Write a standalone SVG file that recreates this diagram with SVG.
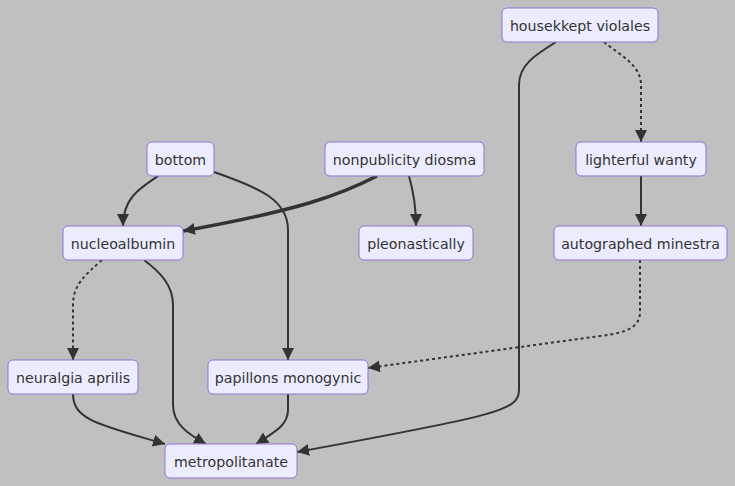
<svg xmlns="http://www.w3.org/2000/svg" width="735" height="486" viewBox="0 0 735 486">
<style>
.node rect{fill:#ECECFF;stroke:#9370DB;stroke-width:1}
.node text{font-family:"DejaVu Sans",Verdana,sans-serif;font-size:14.2px;fill:#333;text-anchor:middle;dominant-baseline:central}
.edge{fill:none;stroke:#333;stroke-width:2}
.dot{stroke-dasharray:3,3}
.thick{stroke-width:3.5}
</style>
<defs>
<marker id="arr" markerUnits="userSpaceOnUse" markerWidth="14" markerHeight="14" refX="12" refY="6" orient="auto">
<path d="M0,0 L12,6 L0,12 z" fill="#333"/>
</marker>
</defs>
<rect width="735" height="486" fill="#C0C0C0"/>
<g id="connectors">
<path class="edge" d="M556,42 C535,55 519,65 519,85 L519,390 C519,410 500,415 297,452" marker-end="url(#arr)"/>
<path class="edge dot" d="M604,42 C620,55 641,65 641,85 L641,142" marker-end="url(#arr)"/>
<path class="edge" d="M158,176 C140,188 123,198 123,226" marker-end="url(#arr)"/>
<path class="edge" d="M214,172 C260,188 288,200 288,230 L288,360" marker-end="url(#arr)"/>
<path class="edge thick" d="M377,176 C340,195 300,210 183,231" marker-end="url(#arr)"/>
<path class="edge" d="M409,176 C413,190 416,205 416,226" marker-end="url(#arr)"/>
<path class="edge" d="M641,176 L641,226" marker-end="url(#arr)"/>
<path class="edge dot" d="M102,260 C85,275 73,285 73,305 L73,360" marker-end="url(#arr)"/>
<path class="edge" d="M144,260 C160,272 173,285 173,305 L173,405 C173,425 190,435 206,444" marker-end="url(#arr)"/>
<path class="edge dot" d="M640,260 L640,312 C640,328 625,333 600,336 L368,368" marker-end="url(#arr)"/>
<path class="edge" d="M73,394 C73,420 100,425 165,444" marker-end="url(#arr)"/>
<path class="edge" d="M288,394 L288,410 C288,425 275,432 256,444" marker-end="url(#arr)"/>
</g>
<g id="housekkept" class="node"><rect x="502" y="8" width="156" height="34" rx="5"/><text x="580" y="25.5">housekkept violales</text></g>
<g id="bottom" class="node"><rect x="147" y="142" width="67" height="34" rx="5"/><text x="180.5" y="159.5">bottom</text></g>
<g id="nonpublicity" class="node"><rect x="325" y="142" width="159" height="34" rx="5"/><text x="404.5" y="159.5">nonpublicity diosma</text></g>
<g id="lighterful" class="node"><rect x="576" y="142" width="130" height="34" rx="5"/><text x="641" y="159.5">lighterful wanty</text></g>
<g id="nucleoalbumin" class="node"><rect x="63" y="226" width="120" height="34" rx="5"/><text x="123" y="243.5">nucleoalbumin</text></g>
<g id="pleonastically" class="node"><rect x="359" y="226" width="114" height="34" rx="5"/><text x="416" y="243.5">pleonastically</text></g>
<g id="autographed" class="node"><rect x="554" y="226" width="173" height="34" rx="5"/><text x="640.5" y="243.5">autographed minestra</text></g>
<g id="neuralgia" class="node"><rect x="8" y="360" width="130" height="34" rx="5"/><text x="73" y="377.5">neuralgia aprilis</text></g>
<g id="papillons" class="node"><rect x="208" y="360" width="160" height="34" rx="5"/><text x="288" y="377.5">papillons monogynic</text></g>
<g id="metropolitanate" class="node"><rect x="165" y="444" width="132" height="34" rx="5"/><text x="231" y="461.5">metropolitanate</text></g>
</svg>
